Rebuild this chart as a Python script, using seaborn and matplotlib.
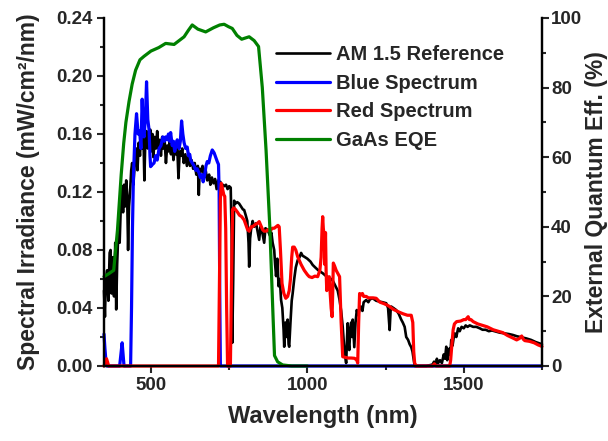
import matplotlib
matplotlib.use("Agg")
import matplotlib.pyplot as plt
import seaborn as sns
import numpy as np
from matplotlib.ticker import MultipleLocator, FormatStrFormatter

# ---------------- data ----------------
am_nm = [350, 353, 356, 360, 364, 368, 371, 374, 378, 382, 386, 389, 392, 396, 400, 404, 407, 411, 414, 417,
         421, 424, 427, 430, 433, 437, 440, 444, 449, 453, 457, 461, 465, 468, 472, 476, 479, 482, 486, 490,
         494, 498, 502, 505, 508, 512, 516, 520, 524, 528, 532, 536, 540, 544, 548, 552, 556, 560, 564, 568,
         572, 576, 580, 584, 588, 592, 596, 600, 605, 610, 615, 620, 625, 630, 635, 640, 645, 650, 653, 656,
         660, 665, 670, 675, 680, 686, 690, 695, 700, 705, 710, 715, 718, 722, 726, 730, 734, 740, 745, 750,
         755, 758, 760, 763, 766, 770, 776, 782, 788, 794, 798, 803, 808, 812, 814, 817, 820, 825, 830, 836,
         840, 846, 850, 856, 862, 866, 873, 880, 885, 889, 894, 897, 900, 904, 908, 912, 916, 920, 924, 926,
         930, 934, 937, 940, 942, 946, 950, 953, 958, 963, 969, 975, 980, 985, 990, 1000, 1010, 1017, 1025, 1035,
         1049, 1060, 1070, 1081, 1090, 1097, 1103, 1108, 1113, 1117, 1120, 1124, 1127, 1129, 1132, 1134, 1137, 1140, 1143, 1145,
         1148, 1150, 1154, 1158, 1163, 1167, 1171, 1176, 1180, 1188, 1195, 1200, 1209, 1220, 1231, 1240, 1252, 1258, 1263, 1266,
         1268, 1275, 1284, 1292, 1300, 1305, 1311, 1316, 1322, 1327, 1332, 1336, 1340, 1343, 1360, 1380, 1400, 1405, 1410, 1414,
         1418, 1424, 1430, 1436, 1440, 1444, 1447, 1450, 1454, 1457, 1460, 1464, 1468, 1471, 1476, 1482, 1487, 1493, 1500, 1506,
         1512, 1519, 1530, 1540, 1551, 1560, 1570, 1580, 1590, 1604, 1615, 1630, 1645, 1657, 1670, 1685, 1700, 1715, 1730, 1750]
am_val = [0.052, 0.034, 0.060, 0.066, 0.045, 0.078, 0.080, 0.050, 0.075, 0.048, 0.085, 0.039, 0.070, 0.094, 0.085, 0.112, 0.124, 0.106, 0.125, 0.110,
          0.128, 0.118, 0.080, 0.110, 0.119, 0.135, 0.140, 0.125, 0.142, 0.150, 0.135, 0.154, 0.145, 0.158, 0.150, 0.160, 0.128, 0.155, 0.162, 0.150,
          0.158, 0.163, 0.148, 0.160, 0.144, 0.158, 0.150, 0.162, 0.150, 0.156, 0.145, 0.158, 0.150, 0.155, 0.140, 0.152, 0.148, 0.156, 0.146, 0.153,
          0.142, 0.150, 0.146, 0.152, 0.1295, 0.148, 0.145, 0.150, 0.140, 0.146, 0.138, 0.145, 0.138, 0.142, 0.136, 0.140, 0.132, 0.138, 0.118, 0.136,
          0.134, 0.138, 0.130, 0.135, 0.128, 0.132, 0.125, 0.130, 0.126, 0.129, 0.122, 0.128, 0.126, 0.127, 0.123, 0.125, 0.124, 0.125, 0.122, 0.124,
          0.123, 0.090, 0.016, 0.060, 0.114, 0.112, 0.113, 0.112, 0.110, 0.108, 0.1076, 0.104, 0.100, 0.085, 0.0685, 0.088, 0.094, 0.100, 0.096, 0.0985,
          0.094, 0.087, 0.096, 0.092, 0.085, 0.095, 0.094, 0.090, 0.092, 0.085, 0.080, 0.070, 0.062, 0.074, 0.055, 0.060, 0.0455, 0.040, 0.025, 0.0133,
          0.030, 0.020, 0.032, 0.015, 0.0133, 0.030, 0.045, 0.050, 0.060, 0.068, 0.073, 0.075, 0.078, 0.076, 0.0754, 0.074, 0.072, 0.0697, 0.068, 0.066,
          0.064, 0.062, 0.061, 0.059, 0.055, 0.052, 0.0455, 0.038, 0.027, 0.015, 0.008, 0.002, 0.020, 0.0295, 0.015, 0.011, 0.025, 0.030, 0.020, 0.032,
          0.020, 0.013, 0.030, 0.0386, 0.035, 0.040, 0.041, 0.038, 0.044, 0.0455, 0.044, 0.046, 0.0467, 0.045, 0.0444, 0.044, 0.0433, 0.040, 0.0248, 0.038,
          0.041, 0.040, 0.0386, 0.036, 0.032, 0.030, 0.027, 0.020, 0.018, 0.015, 0.013, 0.010, 0.004, 0.000, 0.000, 0.000, 0.001, 0.003, 0.001, 0.005,
          0.002, 0.004, 0.002, 0.008, 0.005, 0.0133, 0.004, 0.0064, 0.012, 0.008, 0.018, 0.014, 0.020, 0.0225, 0.020, 0.026, 0.024, 0.027, 0.026, 0.028,
          0.027, 0.028, 0.027, 0.027, 0.026, 0.025, 0.025, 0.024, 0.0245, 0.0237, 0.023, 0.0225, 0.022, 0.0214, 0.0205, 0.0198, 0.019, 0.018, 0.0165, 0.0150]

blue_nm = [350, 353, 356, 359, 380, 400, 404, 408, 411, 414, 435, 438, 441, 444, 449, 454, 459, 464, 468, 472,
           476, 478, 482, 486, 490, 494, 497, 499, 505, 510, 515, 520, 526, 532, 538, 543, 547, 552, 556, 560,
           563, 568, 572, 576, 580, 584, 590, 594, 598, 602, 606, 611, 616, 620, 624, 627, 632, 638, 643, 648,
           654, 658, 663, 667, 672, 676, 680, 685, 690, 696, 702, 707, 712, 716, 718, 720, 722, 1750]
blue_val = [0.022, 0.012, 0.004, 0.000, 0.000, 0.000, 0.008, 0.016, 0.008, 0.000, 0.000, 0.040, 0.095, 0.130, 0.160, 0.174, 0.160, 0.162, 0.150, 0.184,
            0.160, 0.158, 0.170, 0.196, 0.170, 0.163, 0.145, 0.1375, 0.139, 0.140, 0.145, 0.142, 0.150, 0.152, 0.158, 0.155, 0.158, 0.156, 0.160, 0.155,
            0.161, 0.152, 0.155, 0.148, 0.152, 0.156, 0.150, 0.155, 0.169, 0.160, 0.154, 0.150, 0.151, 0.145, 0.146, 0.142, 0.140, 0.138, 0.135, 0.136,
            0.133, 0.130, 0.132, 0.127, 0.132, 0.138, 0.141, 0.140, 0.145, 0.149, 0.147, 0.144, 0.141, 0.139, 0.120, 0.050, 0.000, 0.000]

red_nm = [350, 355, 358, 361, 365, 716, 719, 722, 725, 729, 733, 736, 739, 742, 745, 754, 757, 761, 765, 770,
          777, 783, 790, 798, 804, 809, 814, 820, 825, 830, 836, 841, 846, 851, 857, 862, 868, 874, 880, 888,
          894, 900, 906, 910, 914, 919, 925, 931, 937, 942, 946, 950, 953, 958, 963, 969, 980, 990, 1000, 1006,
          1015, 1024, 1033, 1040, 1044, 1047, 1049, 1051, 1054, 1056, 1058, 1060, 1062, 1066, 1070, 1073, 1076, 1079, 1081, 1083,
          1087, 1092, 1097, 1103, 1108, 1113, 1120, 1130, 1140, 1151, 1158, 1161, 1164, 1167, 1172, 1176, 1180, 1188, 1195, 1200,
          1210, 1220, 1232, 1245, 1255, 1263, 1275, 1285, 1295, 1306, 1320, 1332, 1337, 1340, 1343, 1348, 1400, 1406, 1412, 1455,
          1458, 1462, 1466, 1470, 1477, 1490, 1500, 1506, 1510, 1514, 1518, 1523, 1530, 1545, 1560, 1575, 1594, 1610, 1625, 1640,
          1655, 1669, 1678, 1685, 1690, 1695, 1710, 1725, 1738, 1750]
red_val = [0.000, 0.003, 0.005, 0.003, 0.000, 0.000, 0.060, 0.115, 0.126, 0.122, 0.118, 0.117, 0.095, 0.040, 0.000, 0.000, 0.050, 0.108, 0.109, 0.108,
           0.106, 0.104, 0.103, 0.1007, 0.097, 0.094, 0.093, 0.096, 0.096, 0.097, 0.098, 0.0985, 0.0996, 0.097, 0.094, 0.093, 0.093, 0.094, 0.093, 0.095,
           0.095, 0.096, 0.097, 0.096, 0.080, 0.057, 0.050, 0.0467, 0.048, 0.052, 0.060, 0.075, 0.082, 0.082, 0.080, 0.0754, 0.070, 0.066, 0.063, 0.0616,
           0.061, 0.062, 0.0616, 0.066, 0.075, 0.095, 0.103, 0.095, 0.089, 0.070, 0.092, 0.065, 0.052, 0.058, 0.0616, 0.050, 0.040, 0.034, 0.050, 0.071,
           0.069, 0.066, 0.064, 0.0616, 0.030, 0.0064, 0.006, 0.0055, 0.0055, 0.0053, 0.004, 0.002, 0.030, 0.050, 0.049, 0.050, 0.048, 0.048, 0.047, 0.047,
           0.047, 0.0467, 0.044, 0.043, 0.042, 0.041, 0.039, 0.038, 0.037, 0.036, 0.035, 0.035, 0.030, 0.010, 0.002, 0.000, 0.000, 0.0015, 0.000, 0.000,
           0.004, 0.015, 0.025, 0.029, 0.0306, 0.031, 0.032, 0.032, 0.033, 0.034, 0.032, 0.032, 0.0306, 0.029, 0.028, 0.027, 0.025, 0.024, 0.023, 0.021,
           0.0195, 0.018, 0.019, 0.0207, 0.0185, 0.0175, 0.017, 0.016, 0.0145, 0.0135]

eqe_nm = [350, 365, 381, 393, 405, 413, 420, 430, 440, 451, 465, 478, 500, 525, 547, 574, 590, 606, 620, 632,
          650, 675, 700, 720, 734, 748, 760, 775, 790, 800, 814, 830, 844, 856, 868, 880, 890, 895, 905, 921,
          950, 1000]
eqe_val = [25.7, 26.5, 27.5, 39, 55, 64, 70, 76, 81, 85, 88, 89, 90.5, 91.5, 92.7, 92.4, 93.5, 94.6, 96.5, 98,
           96.8, 96, 97.2, 98, 98.2, 97.5, 97, 95, 93.9, 94.2, 94.6, 93.5, 91.8, 80, 62, 40, 15, 3, 1.2, 0.3,
           0, 0]

labels = ["AM 1.5 Reference", "Blue Spectrum", "Red Spectrum", "GaAs EQE"]
colors = ["#000000", "#0000FF", "#FF0000", "#008000"]

# ---------------- style ----------------
sns.set_style("ticks")
plt.rcParams["font.family"] = ["Liberation Sans", "DejaVu Sans"]
plt.rcParams["font.weight"] = "bold"
plt.rcParams["axes.labelweight"] = "bold"

fig = plt.figure(figsize=(6.08, 4.41), dpi=100)
ax = fig.add_axes([104 / 608, 75 / 441, 438 / 608, 348 / 441])
ax2 = ax.twinx()

lw = 2.3
sns.lineplot(x=am_nm, y=am_val, ax=ax, color=colors[0], lw=1.9, sort=False, estimator=None,
             label=labels[0], legend=False, clip_on=False)
sns.lineplot(x=blue_nm, y=blue_val, ax=ax, color=colors[1], lw=lw, sort=False, estimator=None,
             label=labels[1], legend=False, clip_on=False)
sns.lineplot(x=red_nm, y=red_val, ax=ax, color=colors[2], lw=lw, sort=False, estimator=None,
             label=labels[2], legend=False, clip_on=False)
sns.lineplot(x=eqe_nm, y=eqe_val, ax=ax2, color=colors[3], lw=lw, sort=False, estimator=None,
             label=labels[3], legend=False, clip_on=False)

ax.set_xlim(350, 1750)
ax.set_ylim(0, 0.24)
ax2.set_ylim(0, 100)

ax.xaxis.set_major_locator(MultipleLocator(500))
ax.xaxis.set_minor_locator(MultipleLocator(250))
ax.yaxis.set_major_locator(MultipleLocator(0.04))
ax.yaxis.set_minor_locator(MultipleLocator(0.02))
ax.yaxis.set_major_formatter(FormatStrFormatter("%.2f"))
ax2.yaxis.set_major_locator(MultipleLocator(20))
ax2.yaxis.set_minor_locator(MultipleLocator(10))

for a in (ax, ax2):
    for s in a.spines.values():
        s.set_linewidth(1.6)
        s.set_color("black")
    a.spines["top"].set_visible(False)
    a.tick_params(which="major", direction="out", length=5, width=1.5, labelsize=13.5, pad=3)
    a.tick_params(which="minor", direction="out", length=3, width=1.5)
    for t in a.get_xticklabels() + a.get_yticklabels():
        t.set_fontweight("bold")
ax.tick_params(axis="x", which="both", top=False)
ax2.tick_params(axis="y", which="major", pad=1.5)

ax.set_xlabel("Wavelength (nm)", fontsize=17, fontweight="bold", labelpad=8)
ax.set_ylabel("Spectral Irradiance (mW/cm²/nm)", fontsize=16.5, fontweight="bold", labelpad=12)
ax2.set_ylabel("External Quantum Eff. (%)", fontsize=16.5, fontweight="bold", labelpad=2)

h1, l1 = ax.get_legend_handles_labels()
h2, l2 = ax2.get_legend_handles_labels()
leg = ax2.legend(h1 + h2, l1 + l2, loc="upper left", bbox_to_anchor=(276 / 608, 1 - 45 / 441),
                 bbox_transform=fig.transFigure, frameon=False, fontsize=14.5, handlelength=2.7,
                 handletextpad=0.3, labelspacing=0.48, borderpad=0, borderaxespad=0)
for t in leg.get_texts():
    t.set_fontweight("bold")

fig.savefig("out.png", dpi=100)
